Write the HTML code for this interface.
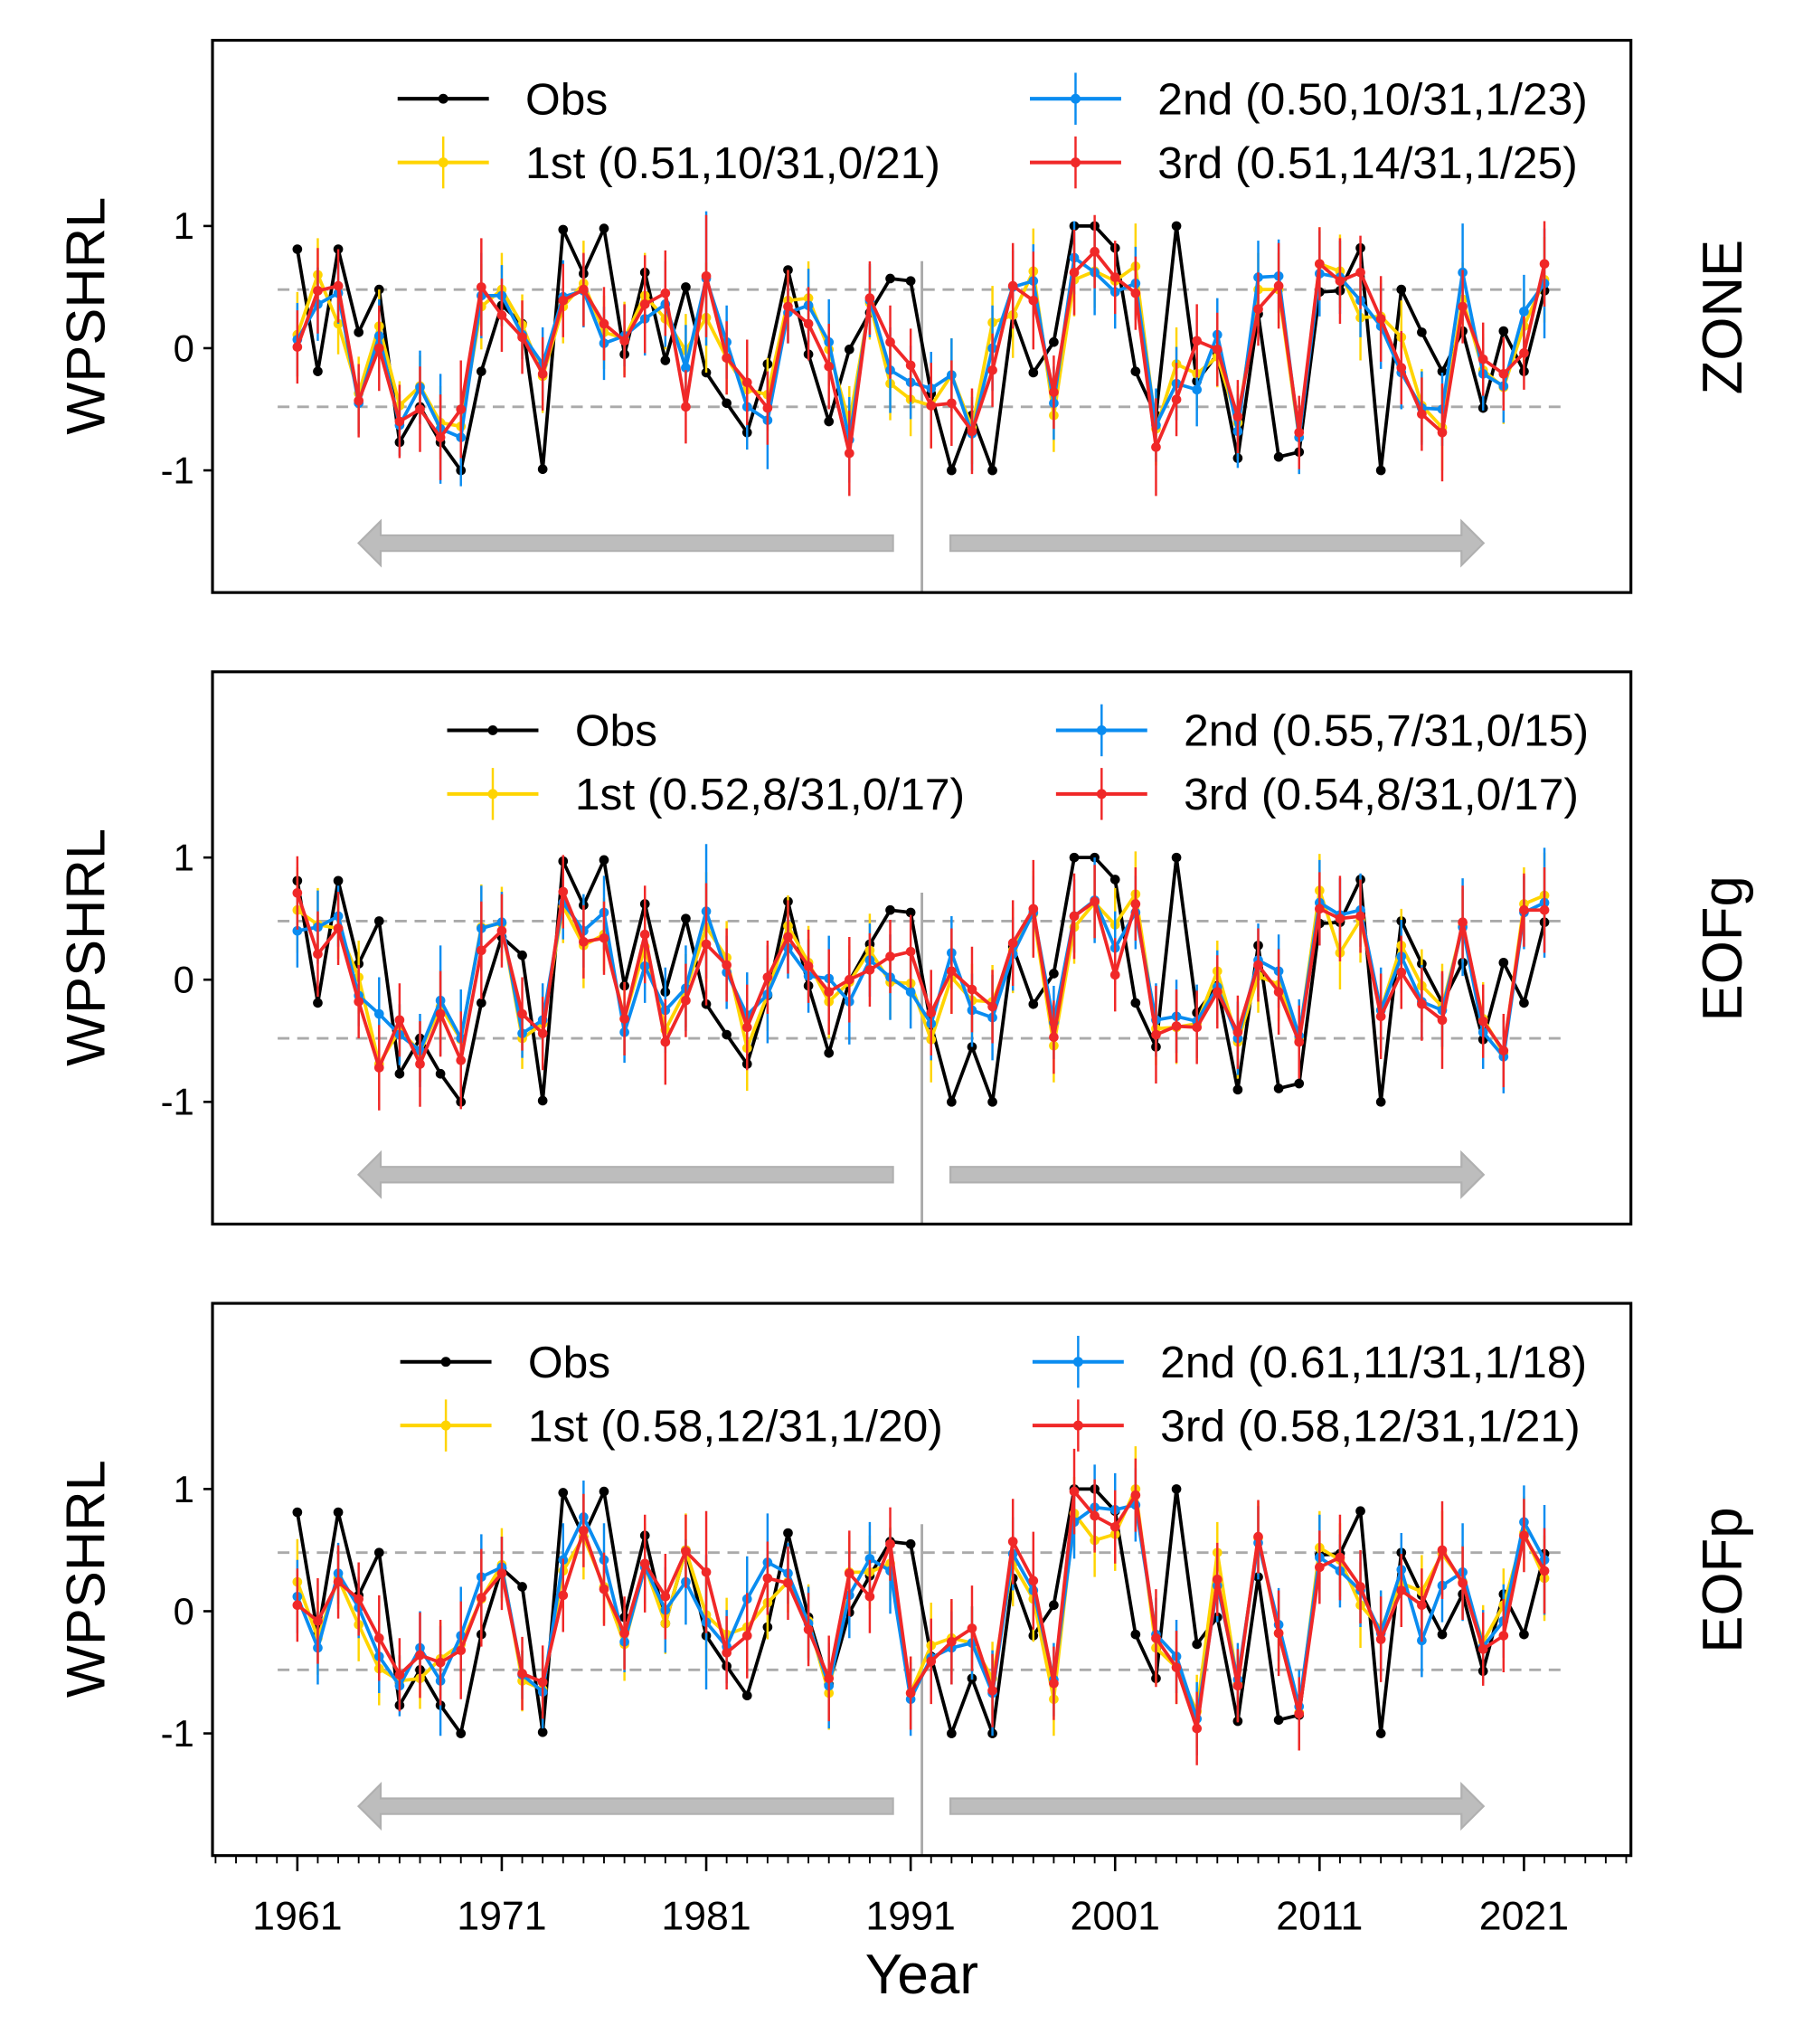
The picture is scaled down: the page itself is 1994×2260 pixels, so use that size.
<!DOCTYPE html>
<html><head><meta charset="utf-8"><title>WPSHRL</title>
<style>html,body{margin:0;padding:0;background:#fff}svg{display:block}</style></head>
<body>
<svg id="chart" xmlns="http://www.w3.org/2000/svg" width="1994" height="2260" viewBox="0 0 1383 1573" preserveAspectRatio="none" font-family="Liberation Sans, Arial, sans-serif"></svg>
<script>
const years=[];for(let y=1961;y<=2022;y++)years.push(y);
const obs=[0.81,-0.19,0.81,0.13,0.48,-0.77,-0.48,-0.77,-1.0,-0.19,0.35,0.2,-0.99,0.97,0.61,0.98,-0.05,0.62,-0.1,0.5,-0.2,-0.45,-0.69,-0.13,0.64,-0.05,-0.6,-0.01,0.29,0.57,0.55,
-0.37,-1.0,-0.55,-1.0,0.27,-0.2,0.05,1.0,1.0,0.82,-0.19,-0.55,1.0,-0.27,-0.05,-0.9,0.28,-0.89,-0.85,0.46,0.47,0.82,-1.0,0.48,0.13,-0.19,0.14,-0.49,0.14,-0.19,0.47];
const p1_1st=[0.11,0.6,0.2,-0.37,0.18,-0.47,-0.31,-0.61,-0.64,0.34,0.48,0.19,-0.23,0.34,0.53,0.13,0.08,0.43,0.24,-0.02,0.25,-0.08,-0.34,-0.38,0.39,0.41,-0.01,-0.61,0.37,-0.29,-0.42,
-0.47,-0.22,-0.65,0.21,0.27,0.63,-0.55,0.56,0.63,0.55,0.67,-0.66,-0.13,-0.21,-0.07,-0.61,0.48,0.48,-0.73,0.69,0.63,0.25,0.26,0.09,-0.47,-0.65,0.4,-0.18,-0.32,0.18,0.56];
const p1_2nd=[0.07,0.36,0.45,-0.45,0.1,-0.63,-0.32,-0.66,-0.73,0.43,0.43,0.11,-0.13,0.42,0.47,0.04,0.1,0.24,0.36,-0.16,0.57,0.05,-0.48,-0.59,0.29,0.35,0.05,-0.75,0.39,-0.18,-0.28,
-0.33,-0.22,-0.7,0.0,0.5,0.55,-0.45,0.74,0.62,0.46,0.53,-0.63,-0.29,-0.34,0.11,-0.68,0.58,0.59,-0.73,0.61,0.58,0.39,0.18,-0.2,-0.49,-0.5,0.62,-0.21,-0.31,0.3,0.53];
const p1_3rd=[0.01,0.47,0.51,-0.43,0.0,-0.6,-0.5,-0.73,-0.5,0.5,0.27,0.09,-0.21,0.39,0.48,0.2,0.06,0.36,0.45,-0.48,0.59,-0.08,-0.28,-0.49,0.34,0.2,-0.15,-0.86,0.41,0.05,-0.14,
-0.47,-0.45,-0.68,-0.18,0.51,0.39,-0.36,0.62,0.79,0.58,0.45,-0.81,-0.42,0.06,-0.01,-0.56,0.32,0.51,-0.69,0.69,0.55,0.62,0.24,-0.16,-0.54,-0.69,0.34,-0.09,-0.21,-0.04,0.69];
const p2_1st=[0.57,0.45,0.42,0.02,-0.69,-0.41,-0.59,-0.22,-0.49,0.43,0.46,-0.48,-0.36,0.6,0.28,0.37,-0.32,0.27,-0.41,-0.09,0.43,0.18,-0.56,-0.12,0.44,0.14,-0.18,-0.02,0.24,-0.02,-0.03,
-0.49,0.02,-0.17,-0.18,0.24,0.54,-0.54,0.43,0.63,0.45,0.7,-0.4,-0.39,-0.36,0.07,-0.51,0.03,-0.04,-0.48,0.73,0.22,0.49,-0.25,0.28,-0.05,-0.22,0.44,-0.32,-0.6,0.62,0.69];
const p2_2nd=[0.4,0.43,0.52,-0.13,-0.28,-0.45,-0.58,-0.17,-0.48,0.42,0.47,-0.44,-0.33,0.63,0.4,0.55,-0.43,0.11,-0.25,-0.07,0.56,0.06,-0.29,-0.12,0.26,0.03,0.01,-0.18,0.16,0.02,-0.1,
-0.36,0.22,-0.25,-0.31,0.21,0.55,-0.35,0.52,0.65,0.26,0.55,-0.33,-0.3,-0.34,-0.06,-0.48,0.16,0.07,-0.46,0.63,0.53,0.57,-0.25,0.19,-0.18,-0.25,0.43,-0.43,-0.63,0.55,0.63];
const p2_3rd=[0.71,0.21,0.42,-0.18,-0.72,-0.33,-0.69,-0.28,-0.66,0.24,0.4,-0.28,-0.44,0.72,0.31,0.34,-0.32,0.37,-0.51,-0.17,0.29,0.12,-0.39,0.02,0.35,0.11,-0.1,0.0,0.08,0.19,0.23,
-0.27,0.07,-0.08,-0.22,0.3,0.58,-0.47,0.52,0.64,0.04,0.62,-0.45,-0.38,-0.39,-0.1,-0.43,0.12,-0.1,-0.51,0.58,0.5,0.52,-0.3,0.06,-0.2,-0.33,0.47,-0.34,-0.58,0.57,0.57];
const p3_1st=[0.24,-0.22,0.27,-0.11,-0.47,-0.57,-0.55,-0.39,-0.27,0.1,0.38,-0.57,-0.64,0.33,0.61,0.2,-0.27,0.37,-0.1,0.5,-0.03,-0.19,-0.13,0.07,0.24,-0.08,-0.67,0.32,0.32,0.39,-0.67,
-0.28,-0.22,-0.26,-0.55,0.39,0.1,-0.72,0.8,0.58,0.63,1.0,-0.3,-0.46,-0.82,0.48,-0.6,0.6,-0.18,-0.83,0.52,0.42,0.05,-0.14,0.23,0.16,0.47,0.24,-0.25,0.05,0.64,0.27];
const p3_2nd=[0.12,-0.3,0.31,0.03,-0.37,-0.61,-0.3,-0.57,-0.2,0.28,0.36,-0.52,-0.66,0.42,0.77,0.42,-0.25,0.36,0.01,0.24,-0.09,-0.29,0.1,0.4,0.31,-0.1,-0.61,0.13,0.43,0.33,-0.72,
-0.38,-0.3,-0.26,-0.67,0.47,0.17,-0.56,0.73,0.85,0.83,0.87,-0.19,-0.37,-0.88,0.21,-0.56,0.56,-0.11,-0.78,0.44,0.33,0.17,-0.18,0.34,-0.24,0.21,0.32,-0.29,-0.08,0.73,0.42];
const p3_3rd=[0.05,-0.08,0.24,0.1,-0.22,-0.52,-0.36,-0.42,-0.32,0.11,0.31,-0.51,-0.58,0.13,0.66,0.18,-0.18,0.39,0.12,0.49,0.32,-0.34,-0.2,0.27,0.23,-0.15,-0.55,0.31,0.12,0.55,-0.67,
-0.41,-0.25,-0.14,-0.65,0.57,0.25,-0.59,0.98,0.78,0.69,0.95,-0.22,-0.46,-0.96,0.26,-0.61,0.61,-0.18,-0.84,0.36,0.44,0.2,-0.23,0.17,0.05,0.5,0.23,-0.31,-0.2,0.62,0.33];
const err1=[0.35,0.3,0.25,0.3,0.3,0.2,0.25,0.3,0.3,0.35,0.3,0.25,0.3,0.3,0.35,0.3,0.3,0.35,0.25,0.3,0.45,0.3,0.35,0.3,0.25,0.3,0.3,0.3,0.3,0.3,0.3,
0.35,0.3,0.3,0.3,0.35,0.35,0.3,0.3,0.3,0.3,0.35,0.3,0.3,0.3,0.25,0.3,0.3,0.3,0.3,0.3,0.3,0.35,0.3,0.3,0.3,0.35,0.3,0.3,0.3,0.3,0.35];
const err2=[0.3,0.3,0.25,0.25,0.3,0.25,0.3,0.45,0.4,0.35,0.25,0.2,0.3,0.3,0.3,0.3,0.25,0.3,0.35,0.35,0.55,0.3,0.35,0.4,0.25,0.3,0.35,0.35,0.3,0.35,0.3,
0.3,0.3,0.3,0.35,0.3,0.3,0.3,0.3,0.35,0.3,0.3,0.3,0.3,0.3,0.3,0.3,0.3,0.3,0.3,0.35,0.3,0.3,0.35,0.3,0.3,0.3,0.4,0.3,0.3,0.3,0.45];
const err3=[0.3,0.35,0.3,0.3,0.35,0.3,0.35,0.35,0.4,0.4,0.3,0.3,0.3,0.3,0.3,0.3,0.3,0.4,0.35,0.3,0.5,0.3,0.35,0.3,0.3,0.3,0.35,0.35,0.3,0.3,0.3,
0.35,0.35,0.35,0.3,0.35,0.4,0.3,0.35,0.3,0.3,0.3,0.4,0.3,0.3,0.3,0.3,0.3,0.35,0.3,0.3,0.35,0.3,0.35,0.3,0.3,0.4,0.3,0.3,0.3,0.3,0.35];
const yTickVals=[-1,0,1];
const xTickLabels=[1961,1971,1981,1991,2001,2011,2021];
const panelNames=['ZONE','EOFg','EOFp'];
const legendLabels=[
 ['Obs','1st (0.51,10/31,0/21)','2nd (0.50,10/31,1/23)','3rd (0.51,14/31,1/25)'],
 ['Obs','1st (0.52,8/31,0/17)','2nd (0.55,7/31,0/15)','3rd (0.54,8/31,0/17)'],
 ['Obs','1st (0.58,12/31,1/20)','2nd (0.61,11/31,1/18)','3rd (0.58,12/31,1/21)']];
const threshold=0.48;
const splitYear=1991.55;

const svg=document.getElementById('chart');
const NS='http://www.w3.org/2000/svg';
function mk(tag,attrs,parent){const e=document.createElementNS(NS,tag);for(const k in attrs)e.setAttribute(k,attrs[k]);(parent||svg).appendChild(e);return e;}
const L=163,R=1251,PH=425,tops=[31,517,1003];
const X0=1956.85,X1=2026.23;
function xs(yr){return L+(yr-X0)/(X1-X0)*(R-L);}
function ysFor(top){return v=>top+PH*(2.52-v)/4.52;}
const colors={obs:'#000000',c1:'#FFD400',c2:'#0A8CF0',c3:'#F02828'};
const legendX=[[305,790],[343,810],[307,792]];
const panelSeries=[[p1_1st,p1_2nd,p1_3rd],[p2_1st,p2_2nd,p2_3rd],[p3_1st,p3_2nd,p3_3rd]];
const errs=[err1,err2,err3];
const keys=['c1','c2','c3'];
const sNames=['first','second','third'];

function drawSeries(g,vals,col,ys,err,name){
  const sg=mk('g',{},g);
  
  
  if(err){vals.forEach((v,i)=>{const x=xs(years[i]);const b=mk('line',{x1:x,x2:x,y1:ys(v+err[i]),y2:ys(v-err[i]),stroke:col,'stroke-width':1.7},sg);
    
    });}
  const pts=vals.map((v,i)=>xs(years[i]).toFixed(1)+','+ys(v).toFixed(1)).join(' ');
  const pl=mk('polyline',{points:pts,fill:'none',stroke:col,'stroke-width':2.6,'stroke-linejoin':'round'},sg);
  
  
  vals.forEach((v,i)=>{const c=mk('circle',{cx:xs(years[i]),cy:ys(v),r:3.7,fill:col},sg);
    
    });
}
function arrow(g,x1,x2,y,dir){
  let d;
  if(dir<0){d=`M${x1},${y} L${x1+17},${y-17} L${x1+17},${y-6} L${x2},${y-6} L${x2},${y+6} L${x1+17},${y+6} L${x1+17},${y+17} Z`;}
  else{d=`M${x2},${y} L${x2-17},${y-17} L${x2-17},${y-6} L${x1},${y-6} L${x1},${y+6} L${x2-17},${y+6} L${x2-17},${y+17} Z`;}
  const p=mk('path',{d:d,fill:'#bdbdbd',stroke:'#b0b0b0','stroke-width':1.5},g);
  
  
}
tops.forEach((top,pi)=>{
  const ys=ysFor(top);
  const g=mk('g',{});
  
  
  [threshold,-threshold].forEach(t=>{const l=mk('line',{x1:213,x2:1200,y1:ys(t),y2:ys(t),stroke:'#aaaaaa','stroke-width':2,'stroke-dasharray':'9,6'},g);
    
    });
  const vl=mk('line',{x1:xs(splitYear),x2:xs(splitYear),y1:top+170,y2:top+PH,stroke:'#aaaaaa','stroke-width':2},g);
  
  
  arrow(g,275,685,top+387,-1);
  arrow(g,729,1138,top+387,1);
  drawSeries(g,obs,colors.obs,ys,null,'obs');
  panelSeries[pi].forEach((s,k)=>drawSeries(g,s,colors[keys[k]],ys,errs[k],sNames[k]));
  const fr=mk('rect',{x:L,y:top,width:R-L,height:PH,fill:'none',stroke:'#000','stroke-width':2.2},g);
  
  
  yTickVals.forEach(v=>{const y=ys(v);
    const t=mk('line',{x1:L-7,x2:L,y1:y,y2:y,stroke:'#000','stroke-width':1.8},g);
    
    
    const tx=mk('text',{x:L-14,y:y+10,'font-size':29,'text-anchor':'end'},g);tx.textContent=String(v);
    
    });
  const yl=mk('text',{x:0,y:0,'font-size':42,'text-anchor':'middle',transform:`translate(80,${top+212}) rotate(-90)`,textLength:183,lengthAdjust:'spacingAndGlyphs'},g);
  yl.textContent='WPSHRL';
  
  
  const pn=mk('text',{x:0,y:0,'font-size':43,'text-anchor':'middle',transform:`translate(1336,${top+213}) rotate(-90)`},g);
  pn.textContent=panelNames[pi];
  
  
  const lg=mk('g',{},g);
  
  
  const cols=[colors.obs,colors.c1,colors.c2,colors.c3];
  legendLabels[pi].forEach((lab,k)=>{
    const lx=legendX[pi][k<2?0:1];const ly=top+(k%2===0?45:94);
    const e=mk('g',{},lg);
    
    
    mk('line',{x1:lx,x2:lx+70,y1:ly,y2:ly,stroke:cols[k],'stroke-width':2.8},e);
    if(k>0)mk('line',{x1:lx+35,x2:lx+35,y1:ly-20,y2:ly+20,stroke:cols[k],'stroke-width':1.7},e);
    mk('circle',{cx:lx+35,cy:ly,r:3.8,fill:cols[k]},e);
    const t=mk('text',{x:lx+98,y:ly+12,'font-size':34.5},e);t.textContent=lab;
  });
});
const bot=tops[2]+PH;
const xg=mk('g',{});


for(let yr=1957;yr<=2026;yr++){const x=xs(yr);const major=(yr-1961)%10===0;
  const t=mk('line',{x1:x,x2:x,y1:bot,y2:bot+(major?12:6),stroke:'#000','stroke-width':major?1.8:1.3},xg);
  
  }
xTickLabels.forEach(yr=>{const t=mk('text',{x:xs(yr),y:bot+57,'font-size':31,'text-anchor':'middle'},xg);t.textContent=String(yr);
  
  });
const xt=mk('text',{x:707,y:1534,'font-size':43,'text-anchor':'middle'},xg);xt.textContent='Year';


</script>
</body></html>
